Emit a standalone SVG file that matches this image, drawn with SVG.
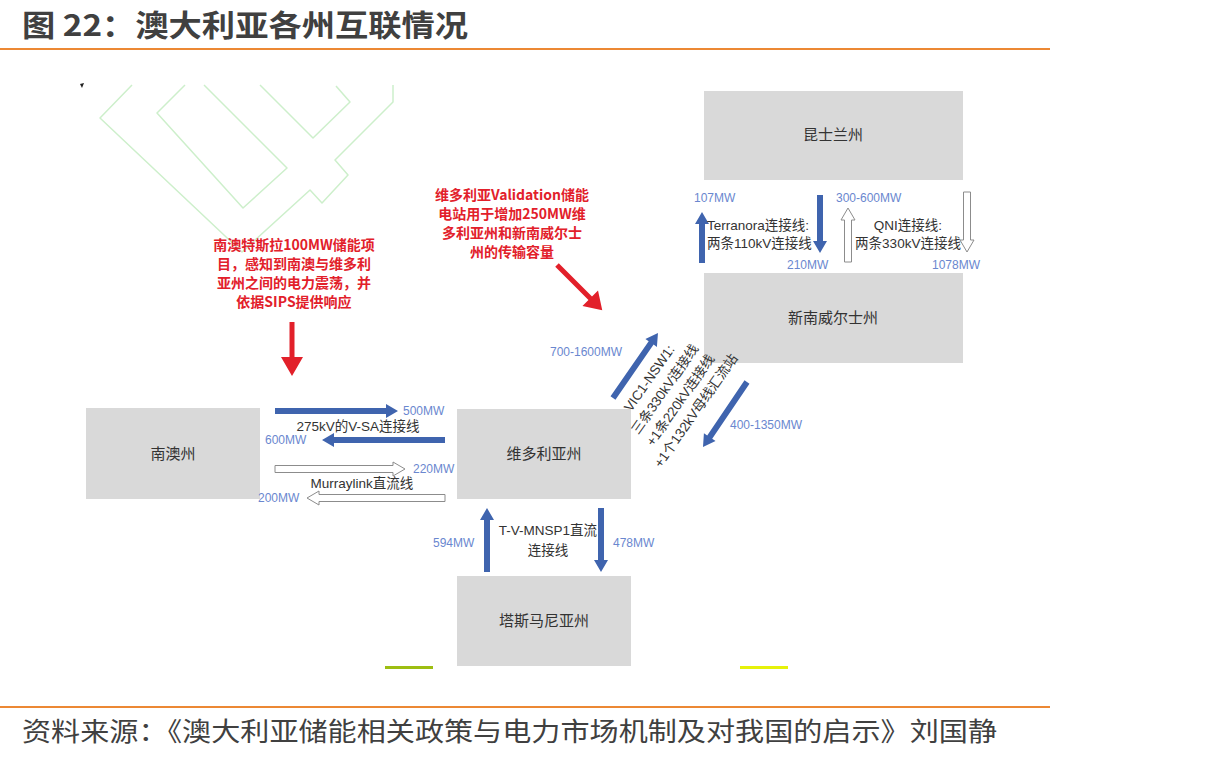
<svg xmlns="http://www.w3.org/2000/svg" width="1205" height="759" viewBox="0 0 1205 759">
<style>
.node rect{fill:#D9D9D9;}
.nlab{font-family:"Liberation Sans","Noto Sans CJK SC",sans-serif;font-size:15px;fill:#333;text-anchor:middle;}
.blue{fill:#3F64AE;}
.hollow{fill:#fff;stroke:#8C8C8C;stroke-width:1;}
.red{fill:#E2202A;}
.mw{font-family:"Liberation Sans","Noto Sans CJK SC",sans-serif;font-size:12px;fill:#6A87CF;}
.lab{font-family:"Liberation Sans","Noto Sans CJK SC",sans-serif;font-size:13.5px;fill:#333;}
.rlab{font-family:"Noto Sans CJK SC",sans-serif;font-size:14px;fill:#E2202A;text-anchor:middle;font-weight:bold;}
.wm{fill:none;stroke:#CDEFCB;stroke-width:1.5;stroke-linejoin:round;}
</style>
<rect width="1205" height="759" fill="#fff"/>
<!-- header -->
<text x="22" y="36" font-family="Noto Sans CJK SC,sans-serif" font-size="30" font-weight="bold" fill="#404040" textLength="446" lengthAdjust="spacingAndGlyphs">图 22：澳大利亚各州互联情况</text>
<rect x="0" y="48" width="1050" height="2" fill="#EC8834"/>
<!-- watermark -->
<g id="watermark">
<path class="wm" d="M132,85 L100,118 L242,252 L310,190 L322,203 L348,175 L335,160 L393,102 L393,85"/>
<path class="wm" d="M185,85 L157,113 L243,208 L287,168 L204,85"/>
<path class="wm" d="M260,85 L313,138 L350,102 L336,86"/>
<path d="M80,84 l4,-1 l-2,5 z" fill="#222"/>
</g>
<!-- nodes -->
<g id="node-qld" class="node"><rect x="704" y="91" width="259" height="89"/><text class="nlab" x="833" y="140">昆士兰州</text></g>
<g id="node-nsw" class="node"><rect x="704" y="273" width="259" height="90"/><text class="nlab" x="833" y="323">新南威尔士州</text></g>
<g id="node-sa" class="node"><rect x="86" y="408" width="174" height="91"/><text class="nlab" x="173" y="459">南澳州</text></g>
<g id="node-vic" class="node"><rect x="457" y="409" width="174" height="90"/><text class="nlab" x="544" y="459">维多利亚州</text></g>
<g id="node-tas" class="node"><rect x="457" y="576" width="174" height="90"/><text class="nlab" x="544" y="626">塔斯马尼亚州</text></g>
<!-- connectors -->
<g id="connectors">
<path class="blue" d="M275,408 H386 V404 L398,411 L386,418 V414 H275 Z"/>
<path class="blue" d="M445,437 H334 V433 L322,440 L334,447 V443 H445 Z"/>
<path class="hollow" d="M275,465.5 H393 V462 L405,469 L393,476 V472.5 H275 Z"/>
<path class="hollow" d="M445,494.5 H319 V491 L307,498 L319,505 V501.5 H445 Z"/>
<path class="blue" d="M699,263 V224 H695 L702,212 L709,224 H705 V263 Z"/>
<path class="blue" d="M817,195 V241 H813 L820,253 L827,241 H823 V195 Z"/>
<path class="hollow" d="M844.5,262 V220 H841 L848,208 L855,220 H851.5 V262 Z"/>
<path class="hollow" d="M963.5,192 V240 H960 L967,252 L974,240 H970.5 V192 Z"/>
<path class="blue" d="M484,572 V520 H480 L487,508 L494,520 H490 V572 Z"/>
<path class="blue" d="M598,508 V560 H594 L601,572 L608,560 H604 V508 Z"/>
<path class="blue" transform="translate(613,398) rotate(-55.3)" d="M0,-3 H67 V-7 L79,0 L67,7 V3 H0 Z"/>
<path class="blue" transform="translate(747,382) rotate(124.1)" d="M0,-3 H66.5 V-7 L78.5,0 L66.5,7 V3 H0 Z"/>
<path class="red" d="M289.5,322 V357 H281 L292,376 L303,357 H294.5 V322 Z"/>
<path class="red" transform="translate(557,265) rotate(45)" d="M0,-2.5 H47 V-11 L64,0 L47,11 V2.5 H0 Z"/>
</g>
<!-- labels -->
<g id="labels">
<text class="mw" x="403" y="415">500MW</text>
<text class="mw" x="265" y="444">600MW</text>
<text class="mw" x="413" y="473">220MW</text>
<text class="mw" x="258" y="502">200MW</text>
<text class="mw" x="694" y="202">107MW</text>
<text class="mw" x="787" y="269">210MW</text>
<text class="mw" x="836" y="202">300-600MW</text>
<text class="mw" x="932" y="269">1078MW</text>
<text class="mw" x="550" y="356">700-1600MW</text>
<text class="mw" x="730" y="429">400-1350MW</text>
<text class="mw" x="433" y="547">594MW</text>
<text class="mw" x="613" y="547">478MW</text>
<text class="lab" x="358" y="431" text-anchor="middle">275kV的V-SA连接线</text>
<text class="lab" x="362" y="488" text-anchor="middle">Murraylink直流线</text>
<text class="lab" x="707" y="230">Terranora连接线:</text>
<text class="lab" x="707" y="248">两条110kV连接线</text>
<text class="lab" x="908" y="230" text-anchor="middle">QNI连接线:</text>
<text class="lab" x="908" y="248" text-anchor="middle">两条330kV连接线</text>
<text class="lab" x="548" y="535" text-anchor="middle">T-V-MNSP1直流</text>
<text class="lab" x="548" y="555" text-anchor="middle">连接线</text>
<g class="lab" text-anchor="middle">
<text transform="translate(649,378) rotate(-55)" y="5">VIC1-NSW1:</text>
<text transform="translate(664.5,389) rotate(-55)" y="5">三条330kV连接线</text>
<text transform="translate(680,400) rotate(-55)" y="5">+1条220kV连接线</text>
<text transform="translate(695.5,410.5) rotate(-55)" y="5">+1个132kV母线汇流站</text>
</g>
<text class="rlab" x="294" y="250">南澳特斯拉100MW储能项</text>
<text class="rlab" x="294" y="269">目，感知到南澳与维多利</text>
<text class="rlab" x="294" y="288">亚州之间的电力震荡，并</text>
<text class="rlab" x="294" y="307">依据SIPS提供响应</text>
<text class="rlab" x="512" y="200">维多利亚Validation储能</text>
<text class="rlab" x="512" y="219">电站用于增加250MW维</text>
<text class="rlab" x="512" y="238">多利亚州和新南威尔士</text>
<text class="rlab" x="512" y="257">州的传输容量</text>
</g>
<rect x="385" y="666" width="48" height="3" fill="#9DBE12"/>
<rect x="740" y="666" width="48" height="3" fill="#E6F20A"/>
<!-- footer -->
<rect x="0" y="706" width="1050" height="2" fill="#EC8834"/>
<text x="22" y="741" font-family="Noto Sans CJK SC,sans-serif" font-size="26" fill="#404040" textLength="975" lengthAdjust="spacingAndGlyphs">资料来源：《澳大利亚储能相关政策与电力市场机制及对我国的启示》刘国静</text>
</svg>
